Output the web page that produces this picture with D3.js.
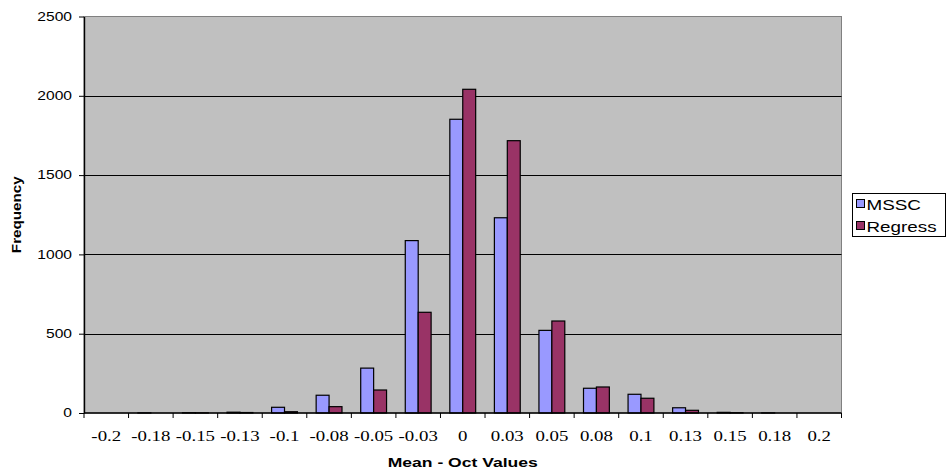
<!DOCTYPE html>
<html>
<head>
<meta charset="utf-8">
<script src="https://cdn.jsdelivr.net/npm/d3@7/dist/d3.min.js"></script>
<style>
  html, body { margin: 0; padding: 0; background: #ffffff; }
  svg { display: block; }
  .serif { font-family: "Liberation Serif", "Times New Roman", "DejaVu Serif", serif; }
  .sans  { font-family: "Liberation Sans", Arial, sans-serif; }
</style>
</head>
<body>
<svg id="chart" width="948" height="473"></svg>
<script>
// Frequency of mean October values, per bin, for two estimation methods
const categories = ["-0.2", "-0.18", "-0.15", "-0.13", "-0.1", "-0.08", "-0.05", "-0.03",
                    "0", "0.03", "0.05", "0.08", "0.1", "0.13", "0.15", "0.18", "0.2"];
const seriesNames = ["MSSC", "Regress"];
const mssc    = [0, 1, 2, 5, 36, 112, 283, 1087, 1852, 1231, 521, 156, 118, 33, 4, 1, 0];
const regress = [0, 0, 1, 3, 8, 40, 145, 635, 2041, 1717, 580, 164, 93, 17, 2, 0, 0];
const yTicks  = [0, 500, 1000, 1500, 2000, 2500];
const colors  = ["#9999FF", "#993366"];

const rows = categories.map((c, i) => ({ cat: c, values: [mssc[i], regress[i]] }));

const svg = d3.select("#chart");
const plot = { left: 84, right: 841.5, top: 16.5, bottom: 413 };
const stretch = 1.3; // horizontal widening of the lettering

const x = d3.scaleBand()
  .domain(categories)
  .range([plot.left, plot.right])
  .paddingInner(0.42)
  .paddingOuter(0.21);

const xInner = d3.scaleBand()
  .domain(d3.range(seriesNames.length))
  .range([0, x.bandwidth()]);

const y = d3.scaleLinear()
  .domain([0, d3.max(yTicks)])
  .range([plot.bottom, plot.top]);

// plot background
svg.append("rect")
  .attr("x", plot.left).attr("y", plot.top)
  .attr("width", plot.right - plot.left)
  .attr("height", plot.bottom - plot.top)
  .attr("fill", "#C0C0C0")
  .attr("stroke", "#808080")
  .attr("stroke-width", 1);

// horizontal gridlines
svg.append("g")
  .selectAll("line")
  .data(yTicks.filter(t => t > 0 && t < d3.max(yTicks)))
  .join("line")
  .attr("x1", plot.left).attr("x2", plot.right)
  .attr("y1", d => Math.round(y(d)) + 0.5).attr("y2", d => Math.round(y(d)) + 0.5)
  .attr("stroke", "#000").attr("stroke-width", 1);

// bars
const groups = svg.append("g")
  .selectAll("g")
  .data(rows)
  .join("g")
  .attr("transform", d => `translate(${x(d.cat)},0)`);

groups.selectAll("rect")
  .data(d => d.values.map((v, k) => ({ v, k })))
  .join("rect")
  .attr("x", d => xInner(d.k))
  .attr("y", d => y(d.v))
  .attr("width", xInner.bandwidth())
  .attr("height", d => y(0) - y(d.v))
  .attr("fill", d => colors[d.k])
  .attr("stroke", "#000")
  .attr("stroke-width", 1.2);

// y axis
const yAxis = svg.append("g")
  .attr("transform", `translate(${plot.left},0)`)
  .call(d3.axisLeft(y).tickValues(yTicks).tickFormat(d3.format("d"))
    .tickSize(5).tickPadding(7).tickSizeOuter(0));
yAxis.attr("font-family", null).attr("font-size", null);
yAxis.select(".domain").attr("stroke", "#000").attr("stroke-width", 1.4);
yAxis.selectAll(".tick line").attr("stroke", "#000");
yAxis.selectAll(".tick text")
  .attr("class", "sans")
  .attr("font-size", 12)
  .attr("fill", "#000")
  .attr("transform", function () {
    const xx = +d3.select(this).attr("x");
    return `translate(${xx},0) scale(${stretch},1) translate(${-xx},0)`;
  });

// x axis: labels centred under each bin, ticks on the bin boundaries
const gap = x.step() - x.bandwidth();
const boundaries = categories.map(c => x(c) - gap / 2)
  .concat([x(categories[categories.length - 1]) + x.bandwidth() + gap / 2]);

const xAxis = svg.append("g");
xAxis.append("line")
  .attr("x1", plot.left).attr("x2", plot.right)
  .attr("y1", plot.bottom).attr("y2", plot.bottom)
  .attr("stroke", "#000").attr("stroke-width", 1.4);
xAxis.selectAll("line.tick")
  .data(boundaries)
  .join("line")
  .attr("class", "tick")
  .attr("x1", d => d).attr("x2", d => d)
  .attr("y1", plot.bottom).attr("y2", plot.bottom + 5)
  .attr("stroke", "#000").attr("stroke-width", 1);
xAxis.selectAll("text")
  .data(categories)
  .join("text")
  .attr("class", "serif")
  .attr("transform", d => `translate(${x(d) + x.bandwidth() / 2},441) scale(${stretch},1)`)
  .attr("text-anchor", "middle")
  .attr("font-size", 14.5)
  .attr("fill", "#000")
  .text(d => d);

// axis titles
svg.append("text")
  .attr("class", "sans")
  .attr("transform", `translate(${(plot.left + plot.right) / 2},467) scale(${stretch},1)`)
  .attr("text-anchor", "middle")
  .attr("font-weight", "bold")
  .attr("font-size", 13.5)
  .text("Mean - Oct Values");

svg.append("text")
  .attr("class", "sans")
  .attr("transform", `translate(20.5,${(plot.top + plot.bottom) / 2}) rotate(-90) scale(1.17,1)`)
  .attr("text-anchor", "middle")
  .attr("font-weight", "bold")
  .attr("font-size", 13)
  .text("Frequency");

// legend
const legend = svg.append("g");
legend.append("rect")
  .attr("x", 852.5).attr("y", 193.5)
  .attr("width", 93).attr("height", 43)
  .attr("fill", "#fff").attr("stroke", "#000").attr("stroke-width", 1);
const items = legend.selectAll("g.item")
  .data(seriesNames)
  .join("g")
  .attr("class", "item")
  .attr("transform", (d, i) => `translate(856,${204 + i * 22})`);
items.append("rect")
  .attr("x", 0.5).attr("y", -4.5)
  .attr("width", 8).attr("height", 8)
  .attr("fill", (d, i) => colors[i])
  .attr("stroke", "#000").attr("stroke-width", 1);
items.append("text")
  .attr("class", "sans")
  .attr("transform", `translate(10.5,5.5) scale(${stretch},1)`)
  .attr("font-size", 14.5)
  .attr("fill", "#000")
  .text(d => d);
</script>
</body>
</html>
